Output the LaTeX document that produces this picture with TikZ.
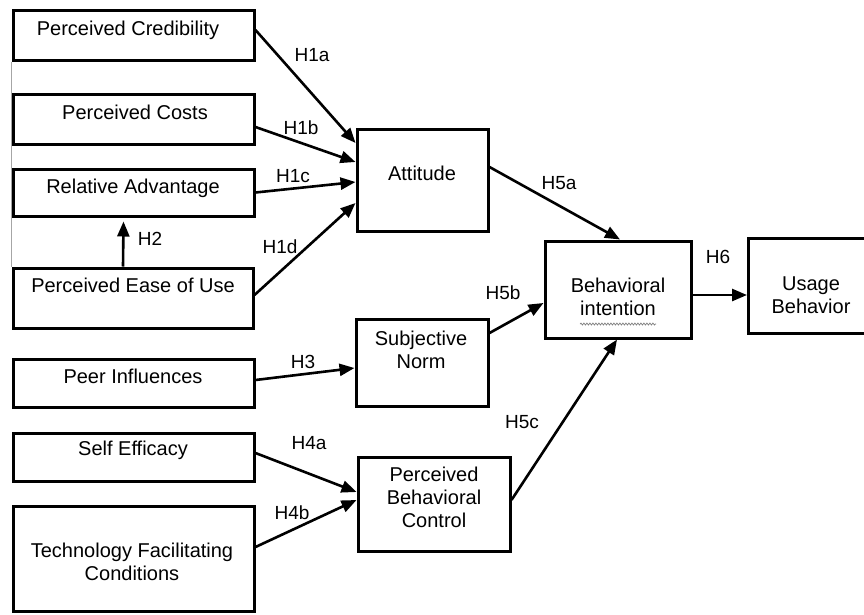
\documentclass[tikz,border=0pt]{standalone}
\usepackage{fontspec}
\setmainfont{Liberation Sans}
\usetikzlibrary{arrows.meta,decorations.pathmorphing}
\begin{document}
\begin{tikzpicture}[x=1pt,y=-1pt,
  box/.style={draw,line width=3pt,inner sep=0pt},
  txt/.style={font=\fontsize{20}{23}\selectfont,align=center,inner sep=0pt},
  hlab/.style={font=\fontsize{19}{22}\selectfont,inner sep=0pt},
  arr/.style={line width=2.6pt,-{Triangle[length=15pt,width=12pt]}}]
\useasboundingbox (0,0) rectangle (864,614);
\clip (0,0) rectangle (864,614);
\fill[white] (0,0) rectangle (864,614);
% left boxes
\node[box,minimum width=241pt,minimum height=50pt] (pc) at (133.5,35) {};
\node[box,minimum width=241pt,minimum height=50pt] (cost) at (133.5,119) {};
\node[box,minimum width=241pt,minimum height=47pt] (ra) at (133.5,192.5) {};
\node[box,minimum width=240pt,minimum height=60pt] (peou) at (133,298) {};
\node[box,minimum width=241pt,minimum height=48pt] (peer) at (133.5,383) {};
\node[box,minimum width=241pt,minimum height=48pt] (se) at (133.5,457) {};
\node[box,minimum width=241pt,minimum height=105pt] (tfc) at (133.5,558.5) {};
% thin side line
\draw[gray!70,line width=0.8pt] (pc.south west) -- (peou.north west);
% texts left
\node[txt] (tpc) at (128,30) {Perceived Credibility};
\node[txt] (tcost) at (135,112) {Perceived Costs};
\node[txt] (tra) at (133,188) {Relative Advantage};
\node[txt] (tpeou) at (133,285) {Perceived Ease of Use};
\node[txt] (tpeer) at (133,376) {Peer Influences};
\node[txt] (tse) at (133,450) {Self Efficacy};
\node[txt] (ttfc) at (132,561.5) {Technology Facilitating\\Conditions};
% middle boxes
\node[box,minimum width=131pt,minimum height=102pt] (att) at (422.5,180) {};
\node[txt] (tatt) at (422,173) {Attitude};
\node[box,minimum width=132pt,minimum height=87pt] (sn) at (422,362.5) {};
\node[txt] (tsn) at (421,349.5) {Subjective\\Norm};
\node[box,minimum width=152pt,minimum height=94pt] (pbc) at (434,504) {};
\node[txt] (tpbc) at (434,497.5) {Perceived\\Behavioral\\Control};
\node[box,minimum width=146pt,minimum height=97pt] (bi) at (618,289.5) {};
\node[txt] (tbi) at (618,297) {Behavioral\\intention};
\draw[gray,line width=0.7pt,decorate,
  decoration={snake,amplitude=1pt,segment length=3pt}]
  ([xshift=-38pt,yshift=-8pt]tbi.south) -- ([xshift=38pt,yshift=-8pt]tbi.south);
\node[box,minimum width=130pt,minimum height=95pt] (ub) at (813.5,285.5) {};
\node[txt] (tub) at (811,295) {Usage\\Behavior};
% arrows
\draw[arr] ([yshift=5pt]pc.east) -- ([yshift=37pt]att.west);
\draw[arr] ([yshift=-8pt]cost.east) -- ([yshift=18pt]att.west);
\draw[arr] (ra.east) -- ([yshift=-2pt]att.west);
\draw[arr] ([yshift=3pt]peou.east) -- ([yshift=-23pt]att.west);
\draw[arr] ([xshift=-10pt]peou.north) -- ([xshift=-10pt,yshift=-4pt]ra.south);
\draw[arr] ([yshift=3pt]peer.east) -- ([yshift=-5.5pt]sn.west);
\draw[arr] ([yshift=4pt]se.east) -- ([yshift=12pt]pbc.west);
\draw[arr] ([yshift=11.5pt]tfc.east) -- ([yshift=4pt]pbc.west);
\draw[arr] ([yshift=13pt]att.east) -- ([xshift=2pt]bi.north);
\draw[arr] ([yshift=29.5pt]sn.east) -- ([yshift=-13.5pt]bi.west);
\draw[arr] ([yshift=4pt]pbc.east) -- ([xshift=-1pt]bi.south);
\draw[arr] ([yshift=-5.5pt]bi.east) -- ([yshift=-9.5pt]ub.west);
% labels
\node[hlab] (l1a) at (312,55) {H1a};
\node[hlab] (l1b) at (301,128) {H1b};
\node[hlab] (l1c) at (293,176) {H1c};
\node[hlab] (l1d) at (280,247) {H1d};
\node[hlab] (l2) at (150,239) {H2};
\node[hlab] (l3) at (303,362) {H3};
\node[hlab] (l4a) at (309,443) {H4a};
\node[hlab] (l4b) at (292,513) {H4b};
\node[hlab] (l5a) at (559,183) {H5a};
\node[hlab] (l5b) at (503,293) {H5b};
\node[hlab] (l5c) at (522,422) {H5c};
\node[hlab] (l6) at (718,257) {H6};
\end{tikzpicture}
\end{document}
